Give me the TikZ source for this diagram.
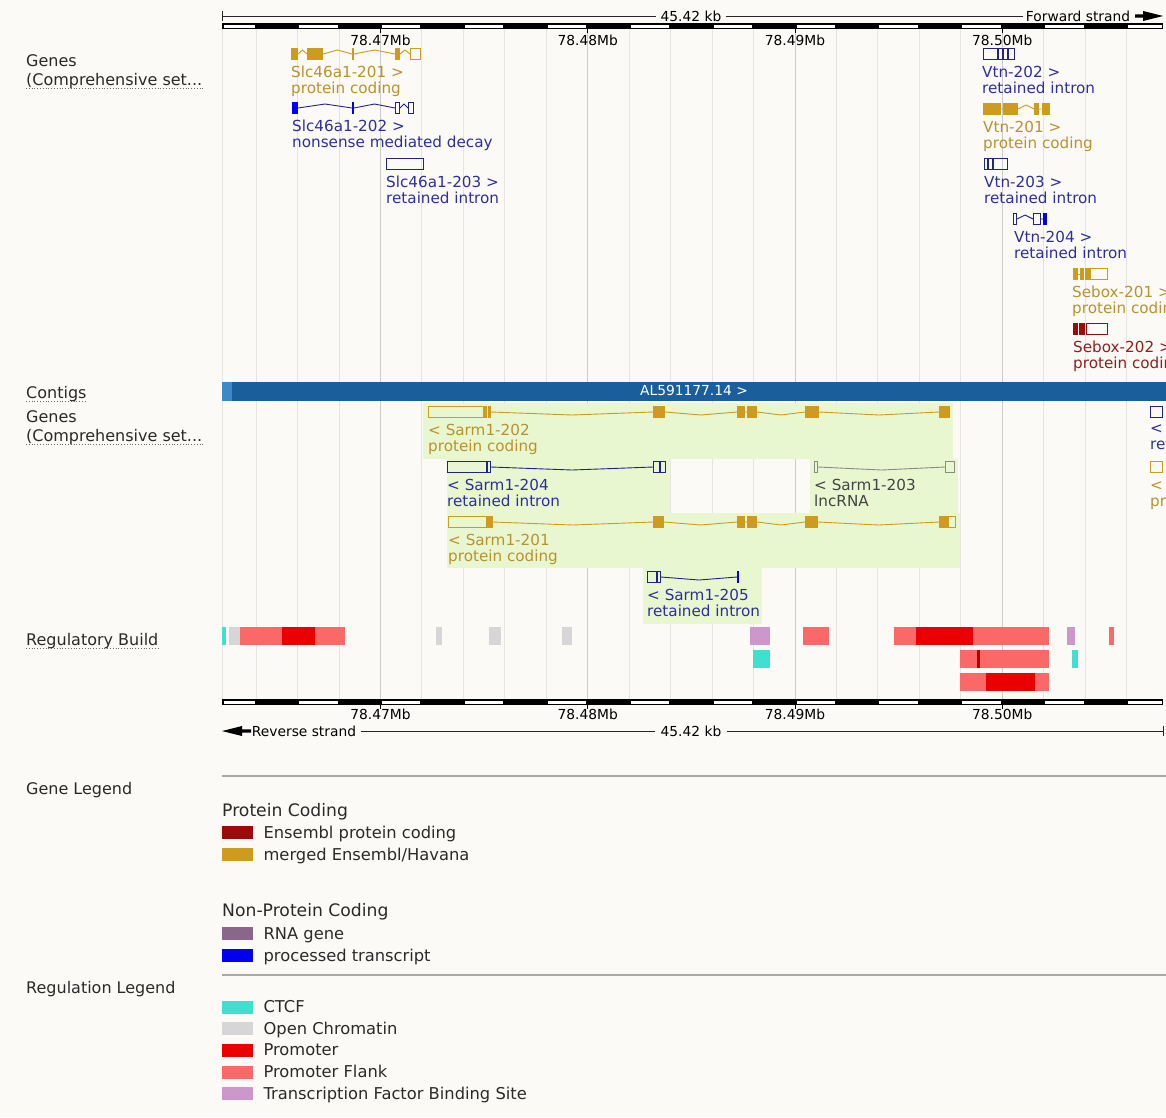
\documentclass[tikz,border=0pt]{standalone}
\usepackage{fontspec}
\setmainfont{DejaVu Sans}
\usepackage{xcolor}
\usepackage{tikz}
\usetikzlibrary{
  positioning,
  calc
}
\definecolor{gbBack}{HTML}{FBFAF6}
\definecolor{gbGrid}{HTML}{E4E4E0}
\definecolor{gbMajor}{HTML}{CCCCC8}
\definecolor{gbMerged}{HTML}{CD9B1D}
\definecolor{gbMergedTxt}{HTML}{B8922E}
\definecolor{gbEns}{HTML}{9E0A0A}
\definecolor{gbEnsTxt}{HTML}{8E2020}
\definecolor{gbProc}{HTML}{0000EE}
\definecolor{gbNavy}{HTML}{22228F}
\definecolor{gbNavyTxt}{HTML}{2E2EA0}
\definecolor{gbLnc}{HTML}{8A8A8A}
\definecolor{gbLncTxt}{HTML}{444444}
\definecolor{gbRNA}{HTML}{8B668B}
\definecolor{gbHilite}{HTML}{E8F7CF}
\definecolor{gbContig}{HTML}{1A5E9C}
\definecolor{gbContigEnd}{HTML}{3E87C8}
\definecolor{rgCTCF}{HTML}{40E0D0}
\definecolor{rgOpen}{HTML}{D6D6D6}
\definecolor{rgProm}{HTML}{EA0000}
\definecolor{rgFlank}{HTML}{FA6868}
\definecolor{rgTFBS}{HTML}{CD96CD}
\definecolor{gbSep}{HTML}{A8A8A4}
\definecolor{gbLabel}{HTML}{2A2A2A}
\tikzset{
  exon/.style={rectangle, inner sep=0pt, minimum height=11pt, anchor=west, line width=1pt},
  pcx/.style={exon, fill=gbMerged, draw=gbMerged},
  pco/.style={exon, draw=gbMerged},
  ptx/.style={exon, fill=gbProc, draw=gbProc},
  pto/.style={exon, draw=gbNavy},
  lnco/.style={exon, draw=gbLnc},
  epx/.style={exon, fill=gbEns, draw=gbEns},
  epo/.style={exon, draw=gbEns},
  intron/.style={line width=0.9pt},
  hat/.style={to path={-- ($(\tikztostart)!.5!(\tikztotarget)+(0,-4)$) -- (\tikztotarget)}},
  dip/.style={to path={-- ($(\tikztostart)!.5!(\tikztotarget)+(0,3)$) -- (\tikztotarget)}},
  glab/.style={anchor=north west, inner sep=0pt, align=left, font=\fontsize{15.2}{16}\selectfont},
  tracklab/.style={anchor=base west, inner sep=0pt, text=gbLabel, font=\fontsize{16}{17}\selectfont},
  uline/.style={gbLabel!70, dotted, line width=0.8pt},
  rulertext/.style={inner sep=0pt, text height=10pt, text depth=0pt, anchor=base, font=\fontsize{13.8}{15}\selectfont},
  rulerline/.style={line width=1pt, black!85},
  gridline/.style={gbGrid, line width=1pt},
  majorline/.style={gbMajor, line width=1pt},
  hilite/.style={fill=gbHilite},
  swatch/.style={rectangle, inner sep=0pt, minimum width=31pt, minimum height=13pt, anchor=west},
  legtext/.style={inner sep=0pt, text height=12.5pt, text depth=1.5pt, font=\fontsize{16.3}{18}\selectfont, text=gbLabel, right=10pt of #1},
  leghead/.style={anchor=base west, inner sep=0pt, font=\fontsize{17.2}{19}\selectfont, text=gbLabel},
  sepline/.style={gbSep, line width=1.5pt}
}

\begin{document}
\begin{tikzpicture}[x=1pt, y=-1pt]
  \useasboundingbox (0,0) rectangle (1166,1117);
  \clip (0,0) rectangle (1166,1117);
  \fill[gbBack] (0,0) rectangle (1166,1117);

  % grid
  \draw[gridline] (222,29) -- (222,699);
  \foreach \k in {-3,...,18}
    \draw[gridline] ({380.5+41.45*\k},29) -- ({380.5+41.45*\k},699);
  \foreach \k in {0,5,10,15}
    \draw[majorline] ({380.5+41.45*\k},29) -- ({380.5+41.45*\k},699);

  % highlighted Sarm1 transcripts
  \fill[hilite] (423,403) rectangle (953,459);
  \fill[hilite] (447,459) rectangle (670,513);
  \fill[hilite] (810,459) rectangle (958,513);
  \fill[hilite] (447,513) rectangle (960,568);
  \fill[hilite] (643,568) rectangle (762,624);

  % scale bars
  \foreach \yb in {23,699}{
    \fill[black] (222,\yb) rectangle (1163,\yb+6);
    \foreach \k in {-4,-2,...,18}{
      \pgfmathsetmacro\xa{max(222,380.5+41.45*\k)+1.5}
      \pgfmathsetmacro\xb{min(1163,380.5+41.45*(\k+1))-1.5}
      \fill[white] (\xa,\yb+1.5) rectangle (\xb,\yb+4.5);
    }
  }
  \foreach \k/\lab in {0/78.47,5/78.48,10/78.49,15/78.50}{
    \draw[black, line width=1pt] ({380.5+41.45*\k},23) -- ({380.5+41.45*\k},33);
    \node[rulertext] (mt\k) at ({380.5+41.45*\k},45) {\lab Mb};
    \draw[black, line width=1pt] ({380.5+41.45*\k},705) -- ({380.5+41.45*\k},709);
    \node[rulertext] (mb\k) at ({380.5+41.45*\k},719) {\lab Mb};
  }

  % top ruler
  \coordinate (tl) at (222,16);
  \draw[rulerline] (222,11) -- (222,21);
  \node[rulertext, inner xsep=4pt] (kbtop) at (691,21) {45.42 kb};
  \node[rulertext, inner xsep=3pt] (fwd) at (1078,21) {Forward strand};
  \draw[rulerline] (tl) -- (kbtop) -- (fwd);
  \fill[black] (1135,14.3) -- (1143,14.3) -- (1143,11) -- (1163,16) -- (1143,21)
    -- (1143,17.7) -- (1135,17.7) -- cycle;

  % bottom ruler
  \coordinate (br) at (1163,731);
  \fill[black] (251,729.3) -- (242,729.3) -- (242,726) -- (222,731) -- (242,736)
    -- (242,732.7) -- (251,732.7) -- cycle;
  \node[rulertext, inner xsep=5pt] (rev) at (304,736) {Reverse strand};
  \node[rulertext, inner xsep=5pt] (kbbot) at (691,736) {45.42 kb};
  \draw[rulerline] (rev) -- (kbbot) -- (br);
  \draw[rulerline] (1163,726) -- (1163,736);

  % forward strand genes
  \node[pcx, minimum width=6pt] (sa1) at (291,54) {};
  \node[pcx, minimum width=15pt] (sa2) at (307,54) {};
  \node[pcx, minimum width=1pt] (sa3) at (352,54) {};
  \node[pcx, minimum width=4pt] (sa4) at (395,54) {};
  \node[pco, minimum width=10pt] (sa5) at (410,54) {};
  \draw[intron, gbMerged] (sa1.east) to[hat] (sa2.west) (sa2.east) to[hat] (sa3.west)
    (sa3.east) to[hat] (sa4.west) (sa4.east) to[hat] (sa5.west);
  \node[glab, text=gbMergedTxt] (sal) at (291,66) {Slc46a1-201 >\\protein coding};

  \node[ptx, minimum width=5pt] (sb1) at (292,108) {};
  \node[ptx, minimum width=1pt] (sb2) at (352,108) {};
  \node[pto, minimum width=4pt] (sb3) at (395,108) {};
  \node[pto, minimum width=5pt] (sb4) at (408,108) {};
  \draw[intron, gbNavy] (sb1.east) to[hat] (sb2.west) (sb2.east) to[hat] (sb3.west)
    (sb3.east) to[hat] (sb4.west);
  \node[glab, text=gbNavyTxt] (sbl) at (292,120) {Slc46a1-202 >\\nonsense mediated decay};

  \node[pto, minimum width=37pt] (sc1) at (386,164) {};
  \node[glab, text=gbNavyTxt] (scl) at (386,176) {Slc46a1-203 >\\retained intron};

  \node[pto, minimum width=14pt] (va1) at (983,54) {};
  \node[pto, minimum width=4pt] (va2) at (998,54) {};
  \node[pto, minimum width=4pt] (va3) at (1003,54) {};
  \node[pto, minimum width=6pt] (va4) at (1008,54) {};
  \node[glab, text=gbNavyTxt] (val) at (982,66) {Vtn-202 >\\retained intron};

  \node[pcx, minimum width=17pt] (vb1) at (983,109) {};
  \node[pcx, minimum width=14pt] (vb2) at (1003,109) {};
  \node[pcx, minimum width=4pt] (vb3) at (1034,109) {};
  \node[pcx, minimum width=7pt] (vb4) at (1042,109) {};
  \draw[intron, gbMerged] (vb1.east) -- (vb2.west) (vb2.east) to[hat] (vb3.west)
    (vb3.east) -- (vb4.west);
  \node[glab, text=gbMergedTxt] (vbl) at (983,121) {Vtn-201 >\\protein coding};

  \node[pto, minimum width=3pt] (vc1) at (984,164) {};
  \node[pto, minimum width=4pt] (vc2) at (988,164) {};
  \node[pto, minimum width=14pt] (vc3) at (993,164) {};
  \node[glab, text=gbNavyTxt] (vcl) at (984,176) {Vtn-203 >\\retained intron};

  \node[pto, minimum width=3pt] (vd1) at (1013,219) {};
  \node[pto, minimum width=7pt] (vd2) at (1033,219) {};
  \node[ptx, minimum width=3pt] (vd3) at (1043,219) {};
  \draw[intron, gbNavy] (vd1.east) to[hat] (vd2.west) (vd2.east) -- (vd3.west);
  \node[glab, text=gbNavyTxt] (vdl) at (1014,231) {Vtn-204 >\\retained intron};

  \node[pcx, minimum width=4pt] (sx1) at (1073,274) {};
  \node[pcx, minimum width=3pt] (sx2) at (1080,274) {};
  \node[pcx, minimum width=4pt] (sx3) at (1085,274) {};
  \node[pco, minimum width=17pt] (sx4) at (1090,274) {};
  \draw[intron, gbMerged] (sx1.east) -- (sx2.west);
  \node[glab, text=gbMergedTxt] (sxl) at (1072,286) {Sebox-201 >\\protein coding};

  \node[epx, minimum width=4pt] (sy1) at (1073,329) {};
  \node[epx, minimum width=5pt] (sy2) at (1079,329) {};
  \node[epo, minimum width=21pt] (sy3) at (1086,329) {};
  \node[glab, text=gbEnsTxt] (syl) at (1073,341) {Sebox-202 >\\protein coding};

  % contig
  \fill[gbContig] (222,382) rectangle (1166,401);
  \fill[gbContigEnd] (222,382) rectangle (232,401);
  \node[rulertext, text=white] (contig) at (694,395) {AL591177.14 >};

  % reverse strand genes
  \node[pco, minimum width=55pt] (ra1) at (428,412) {};
  \node[pcx, minimum width=2pt] (ra2) at (484,412) {};
  \node[pcx, minimum width=2pt] (ra3) at (488,412) {};
  \node[pcx, minimum width=11pt] (ra4) at (653,412) {};
  \node[pcx, minimum width=7pt] (ra5) at (737,412) {};
  \node[pcx, minimum width=9pt] (ra6) at (747,412) {};
  \node[pcx, minimum width=13pt] (ra7) at (805,412) {};
  \node[pcx, minimum width=10pt] (ra8) at (939,412) {};
  \draw[intron, gbMerged] (ra3.east) to[dip] (ra4.west) (ra4.east) to[dip] (ra5.west)
    (ra5.east) -- (ra6.west) (ra6.east) to[dip] (ra7.west) (ra7.east) to[dip] (ra8.west);
  \node[glab, text=gbMergedTxt] (ral) at (428,424) {< Sarm1-202\\protein coding};

  \node[pto, minimum width=39pt] (rb1) at (447,467) {};
  \node[pto, minimum width=3pt] (rb2) at (487,467) {};
  \node[pto, minimum width=6pt] (rb3) at (653,467) {};
  \node[pto, minimum width=5pt] (rb4) at (660,467) {};
  \draw[intron, gbNavy] (rb2.east) to[dip] (rb3.west);
  \node[glab, text=gbNavyTxt] (rbl) at (447,479) {< Sarm1-204\\retained intron};

  \node[lnco, minimum width=3pt] (rc1) at (814,467) {};
  \node[lnco, minimum width=9pt] (rc2) at (945,467) {};
  \draw[intron, gbLnc] (rc1.east) to[dip] (rc2.west);
  \node[glab, text=gbLncTxt] (rcl) at (814,479) {< Sarm1-203\\lncRNA};

  \node[pco, minimum width=38pt] (rd1) at (448,522) {};
  \node[pcx, minimum width=2pt] (rd2) at (487,522) {};
  \node[pcx, minimum width=2pt] (rd3) at (490,522) {};
  \node[pcx, minimum width=10pt] (rd4) at (653,522) {};
  \node[pcx, minimum width=7pt] (rd5) at (737,522) {};
  \node[pcx, minimum width=9pt] (rd6) at (747,522) {};
  \node[pcx, minimum width=12pt] (rd7) at (805,522) {};
  \node[pcx, minimum width=8pt] (rd8) at (939,522) {};
  \node[pco, minimum width=7pt] (rd9) at (948,522) {};
  \draw[intron, gbMerged] (rd3.east) to[dip] (rd4.west) (rd4.east) to[dip] (rd5.west)
    (rd5.east) -- (rd6.west) (rd6.east) to[dip] (rd7.west) (rd7.east) to[dip] (rd8.west);
  \node[glab, text=gbMergedTxt] (rdl) at (448,534) {< Sarm1-201\\protein coding};

  \node[pto, minimum width=9pt] (re1) at (647,577) {};
  \node[pto, minimum width=3pt] (re2) at (657,577) {};
  \node[ptx, minimum width=1pt] (re3) at (737,577) {};
  \draw[intron, gbNavy] (re2.east) to[dip] (re3.west);
  \node[glab, text=gbNavyTxt] (rel) at (647,589) {< Sarm1-205\\retained intron};

  \node[pto, minimum width=12pt] (rf1) at (1150,412) {};
  \node[glab, text=gbNavyTxt] (rfl) at (1150,424) {<\\retained intron};
  \node[pco, minimum width=12pt] (rg1) at (1150,467) {};
  \node[glab, text=gbMergedTxt] (rgl) at (1150,479) {< V\\protein coding};

  % regulatory build
  \foreach \a/\b/\col in {222/226/rgCTCF, 229/240/rgOpen, 240/282/rgFlank, 282/315/rgProm,
      315/345/rgFlank, 436/442/rgOpen, 489/501/rgOpen, 562/572/rgOpen, 750/770/rgTFBS,
      803/829/rgFlank, 894/916/rgFlank, 916/973/rgProm, 973/1049/rgFlank,
      1067/1075/rgTFBS, 1109/1114/rgFlank}
    \fill[\col] (\a,627) rectangle (\b,645);
  \foreach \a/\b/\col in {753/770/rgCTCF, 960/1049/rgFlank, 977/980/rgProm!80!black,
      1072/1078/rgCTCF}
    \fill[\col] (\a,650) rectangle (\b,668);
  \foreach \a/\b/\col in {960/1049/rgFlank, 986/1035/rgProm}
    \fill[\col] (\a,673) rectangle (\b,691);

  % track labels
  \node[tracklab] (genesf) at (26,66) {Genes};
  \node[tracklab] (compf) at (26,85) {(Comprehensive set...};
  \node[tracklab] (contigs) at (26,398) {Contigs};
  \node[tracklab] (genesr) at (26,422) {Genes};
  \node[tracklab] (compr) at (26,441) {(Comprehensive set...};
  \node[tracklab] (regbuild) at (26,645) {Regulatory Build};
  \foreach \n in {compf, contigs, compr, regbuild}
    \draw[uline] ([yshift=-3pt]\n.base west) -- ([yshift=-3pt]\n.base east);

  % legends
  \draw[sepline] (222,776) -- (1166,776);
  \draw[sepline] (222,975) -- (1166,975);
  \node[tracklab] (genelegend) at (26,794) {Gene Legend};
  \node[tracklab] (reglegend) at (26,993) {Regulation Legend};
  \node[leghead] (pchead) at (222,816) {Protein Coding};
  \node[swatch, fill=gbEns] (lg1) at (222,832.5) {};
  \node[legtext=lg1] (lt1) {Ensembl protein coding};
  \node[swatch, fill=gbMerged] (lg2) at (222,854.5) {};
  \node[legtext=lg2] (lt2) {merged Ensembl/Havana};
  \node[leghead] (nphead) at (222,916) {Non-Protein Coding};
  \node[swatch, fill=gbRNA] (lg3) at (222,933.5) {};
  \node[legtext=lg3] (lt3) {RNA gene};
  \node[swatch, fill=gbProc] (lg4) at (222,955.5) {};
  \node[legtext=lg4] (lt4) {processed transcript};
  \foreach \n/\col/\lbl in {0/rgCTCF/CTCF, 1/rgOpen/Open Chromatin, 2/rgProm/Promoter,
      3/rgFlank/Promoter Flank, 4/rgTFBS/Transcription Factor Binding Site}{
    \node[swatch, fill=\col] (rs\n) at (222,1007+21.7*\n) {};
    \node[legtext=rs\n] (rt\n) {\lbl};
  }
\end{tikzpicture}
\end{document}
